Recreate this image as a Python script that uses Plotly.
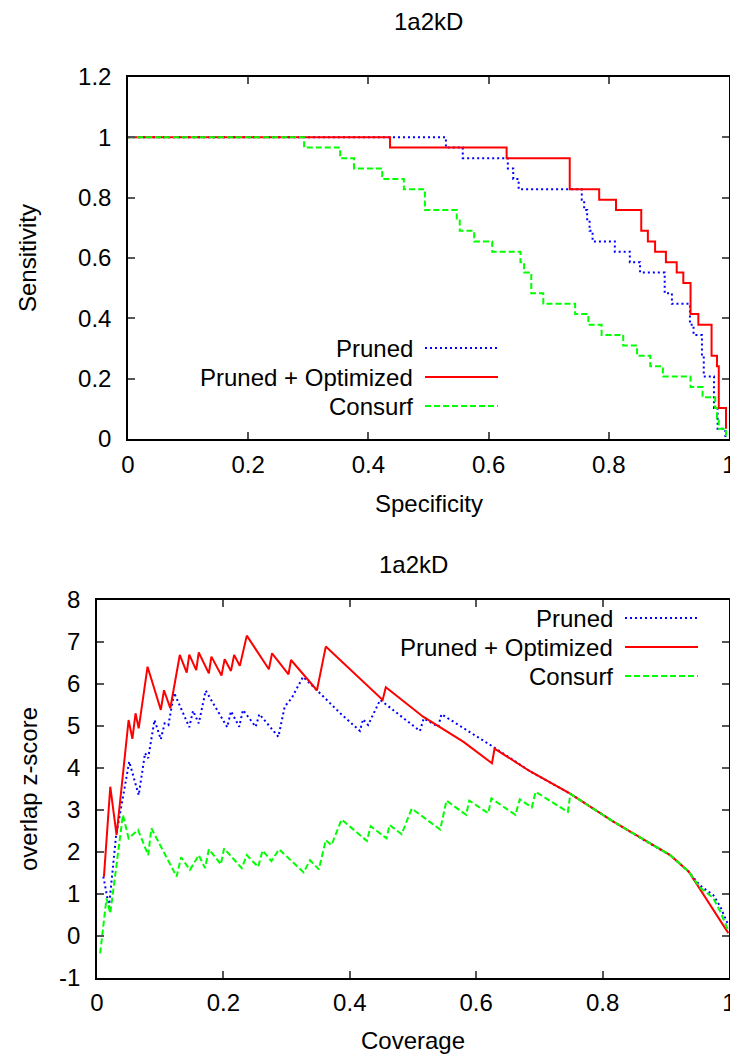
import plotly.graph_objects as go

# ---------------- data: top chart (Specificity vs Sensitivity, step curves) ----------------
spec_pruned = [0, 0.529, 0.557, 0.632, 0.641, 0.650, 0.755, 0.759, 0.764, 0.768, 0.773, 0.810,
               0.835, 0.852, 0.893, 0.905, 0.935, 0.941, 0.955, 0.958, 0.975, 0.981, 0.994]
sens_pruned = [1, 0.966, 0.931, 0.897, 0.862, 0.828, 0.793, 0.759, 0.724, 0.690, 0.655, 0.621,
               0.586, 0.552, 0.483, 0.448, 0.379, 0.345, 0.276, 0.207, 0.103, 0.034, 0]

spec_opt = [0, 0.436, 0.630, 0.735, 0.784, 0.812, 0.854, 0.865, 0.877, 0.895, 0.913, 0.924,
            0.936, 0.949, 0.971, 0.980, 0.983, 0.995]
sens_opt = [1, 0.966, 0.931, 0.828, 0.793, 0.759, 0.690, 0.655, 0.621, 0.586, 0.552, 0.517,
            0.414, 0.379, 0.276, 0.241, 0.103, 0.034]

spec_consurf = [0, 0.293, 0.353, 0.376, 0.423, 0.459, 0.494, 0.547, 0.552, 0.576, 0.606, 0.653,
                0.659, 0.671, 0.691, 0.744, 0.766, 0.788, 0.824, 0.847, 0.869, 0.890, 0.936,
                0.956, 0.977, 0.980, 0.983, 0.995]
sens_consurf = [1, 0.966, 0.931, 0.897, 0.862, 0.828, 0.759, 0.724, 0.690, 0.655, 0.621, 0.586,
                0.552, 0.483, 0.448, 0.414, 0.379, 0.345, 0.310, 0.276, 0.241, 0.207, 0.172,
                0.138, 0.103, 0.069, 0.034, 0]

# ---------------- data: bottom chart (Coverage vs overlap z-score) ----------------
cov_pruned = [0.010, 0.019, 0.030, 0.051, 0.066, 0.076, 0.081, 0.091, 0.101, 0.107, 0.113, 0.122,
              0.146, 0.152, 0.161, 0.172, 0.206, 0.212, 0.225, 0.231, 0.251, 0.257, 0.287, 0.297,
              0.308, 0.326, 0.348, 0.385, 0.416, 0.421, 0.429, 0.448, 0.511, 0.517, 0.540, 0.545,
              0.627, 0.685, 0.748, 0.817, 0.870, 0.907, 0.936, 0.954, 0.975, 0.986, 0.999]
z_pruned = [1.41, 0.69, 2.36, 4.15, 3.35, 4.35, 4.23, 5.14, 4.68, 5.06, 5.02, 5.79,
            4.97, 5.36, 5.06, 5.84, 4.97, 5.35, 4.98, 5.38, 4.98, 5.28, 4.74, 5.46,
            5.66, 6.17, 5.85, 5.30, 4.88, 5.16, 5.02, 5.62, 4.88, 5.18, 4.98, 5.28,
            4.50, 3.92, 3.39, 2.72, 2.24, 1.92, 1.53, 1.20, 0.97, 0.70, 0.25]

cov_opt = [0.011, 0.021, 0.031, 0.050, 0.056, 0.061, 0.066, 0.080, 0.101, 0.106, 0.116, 0.131,
           0.142, 0.146, 0.157, 0.161, 0.177, 0.181, 0.197, 0.202, 0.212, 0.217, 0.226, 0.237,
           0.272, 0.277, 0.303, 0.307, 0.348, 0.362, 0.452, 0.457, 0.516, 0.580, 0.625, 0.629,
           0.685, 0.748, 0.817, 0.870, 0.907, 0.936, 0.999]
z_opt = [1.41, 3.55, 2.40, 5.14, 4.69, 5.30, 4.94, 6.41, 5.38, 5.85, 5.42, 6.69,
         6.27, 6.70, 6.33, 6.75, 6.25, 6.65, 6.20, 6.59, 6.31, 6.69, 6.43, 7.15,
         6.35, 6.73, 6.23, 6.57, 5.85, 6.89, 5.62, 5.92, 5.22, 4.62, 4.11, 4.46,
         3.92, 3.39, 2.72, 2.24, 1.92, 1.53, 0.06]

cov_consurf = [0.005, 0.015, 0.021, 0.041, 0.050, 0.065, 0.081, 0.086, 0.126, 0.133, 0.147, 0.161,
               0.171, 0.177, 0.196, 0.201, 0.229, 0.237, 0.255, 0.262, 0.276, 0.288, 0.327, 0.337,
               0.351, 0.362, 0.371, 0.387, 0.427, 0.433, 0.458, 0.463, 0.482, 0.498, 0.543, 0.553,
               0.584, 0.589, 0.619, 0.624, 0.662, 0.669, 0.688, 0.694, 0.745, 0.749, 0.817, 0.870,
               0.907, 0.936, 0.954, 0.975, 0.986, 0.999]
z_consurf = [-0.42, 0.89, 0.53, 2.88, 2.32, 2.52, 1.92, 2.56, 1.41, 1.87, 1.57, 1.92,
             1.61, 2.06, 1.70, 2.08, 1.61, 1.92, 1.64, 2.03, 1.78, 2.06, 1.51, 1.80,
             1.58, 2.28, 2.16, 2.77, 2.26, 2.61, 2.32, 2.64, 2.42, 3.03, 2.53, 3.22,
             2.88, 3.22, 2.92, 3.27, 2.88, 3.25, 3.06, 3.43, 2.95, 3.38, 2.72, 2.24,
             1.92, 1.53, 1.15, 0.90, 0.58, 0.12]

series_names = ["Pruned", "Pruned + Optimized", "Consurf"]
x_ticks = [0, 0.2, 0.4, 0.6, 0.8, 1]
x_tick_text = ["0", "0.2", "0.4", "0.6", "0.8", "1"]
y_ticks_top = [0, 0.2, 0.4, 0.6, 0.8, 1, 1.2]
y_tick_text_top = ["0", "0.2", "0.4", "0.6", "0.8", "1", "1.2"]
y_ticks_bot = [-1, 0, 1, 2, 3, 4, 5, 6, 7, 8]
y_tick_text_bot = [str(v) for v in y_ticks_bot]

# ---------------- page geometry ----------------
# the page body keeps the browser's default 8px margin, so the figure is made
# 8px smaller and every page-pixel position below is shifted by that offset
OFF = 8
W, H = 738 - OFF, 1057 - OFF
FONT = "Liberation Sans, Arial, sans-serif"
FS = 24
styles = [
    dict(color="#0000ff", width=2, dash="2px,3px"),
    dict(color="#ff0000", width=2, dash="solid"),
    dict(color="#00ff00", width=2, dash="6px,3px"),
]

def px_x(p):
    return (p - OFF) / W

def px_y(p):
    return 1 - (p - OFF) / H

fig = go.Figure()

top = [(spec_pruned, sens_pruned), (spec_opt, sens_opt), (spec_consurf, sens_consurf)]
bot = [(cov_pruned, z_pruned), (cov_opt, z_opt), (cov_consurf, z_consurf)]

# gnuplot order: Pruned, Pruned + Optimized, Consurf (later drawn on top)
for i in [0, 1, 2]:
    xs, ys = top[i]
    fig.add_trace(go.Scatter(x=xs, y=ys, mode="lines", line=dict(shape="hv", **styles[i]),
                             name=series_names[i], showlegend=False, xaxis="x", yaxis="y"))
for i in [0, 1, 2]:
    xs, ys = bot[i]
    fig.add_trace(go.Scatter(x=xs, y=ys, mode="lines", line=styles[i],
                             name=series_names[i], showlegend=False, xaxis="x2", yaxis="y2"))

axis_common = dict(showline=True, linecolor="black", linewidth=1.5, mirror="ticks",
                   ticks="inside", ticklen=7, tickwidth=1.5, tickcolor="#555",
                   showgrid=False, zeroline=False, automargin=False,
                   tickfont=dict(family=FONT, size=FS, color="black"))

top_dom_x = [px_x(128), px_x(729)]
top_dom_y = [px_y(439), px_y(77)]
bot_dom_x = [px_x(97), px_x(729)]
bot_dom_y = [px_y(977.7), px_y(600)]

fig.update_layout(
    template="none",
    width=W, height=H, margin=dict(l=0, r=0, t=0, b=0, pad=0, autoexpand=False),
    paper_bgcolor="white", plot_bgcolor="white",
    font=dict(family=FONT, size=FS, color="black"),
    xaxis=dict(domain=top_dom_x, range=[0, 1], tickvals=x_ticks, ticktext=x_tick_text,
               anchor="y", ticklabelstandoff=3, **axis_common),
    yaxis=dict(domain=top_dom_y, range=[0, 1.2], tickvals=y_ticks_top, ticktext=y_tick_text_top,
               anchor="x", ticklabelstandoff=10, **axis_common),
    xaxis2=dict(domain=bot_dom_x, range=[0, 1], tickvals=x_ticks, ticktext=x_tick_text,
                anchor="y2", ticklabelstandoff=3, **axis_common),
    yaxis2=dict(domain=bot_dom_y, range=[-1, 8], tickvals=y_ticks_bot, ticktext=y_tick_text_bot,
                anchor="x2", ticklabelstandoff=10, **axis_common),
)

ann = []
shapes = []

def text(x, y, s, xanchor="center", angle=0):
    ann.append(dict(x=px_x(x), y=px_y(y), xref="paper", yref="paper", text=s, showarrow=False,
                    xanchor=xanchor, yanchor="middle", textangle=angle,
                    font=dict(family=FONT, size=FS, color="black")))

# titles and axis titles
text((128 + 729) / 2, 22, "1a2kD")
text((128 + 729) / 2, 503, "Specificity")
text(28, 258, "Sensitivity", angle=-90)
text((97 + 729) / 2, 564, "1a2kD")
text((97 + 729) / 2, 1040, "Coverage")
text(28, 789, "overlap z-score", angle=-90)

# gnuplot-style keys (text left of sample)
def key(text_right, sample_x0, sample_x1, ys):
    for i, yy in enumerate(ys):
        text(text_right, yy, series_names[i], xanchor="right")
        st = styles[i]
        shapes.append(dict(type="line", xref="paper", yref="paper",
                           x0=px_x(sample_x0), x1=px_x(sample_x1), y0=px_y(yy), y1=px_y(yy),
                           line=dict(color=st["color"], width=st["width"], dash=st["dash"])))

key(415, 425, 498, [348, 377, 406])
key(615, 625, 698, [618, 647, 676])

fig.update_layout(annotations=ann, shapes=shapes)
fig.write_html("out.html")
